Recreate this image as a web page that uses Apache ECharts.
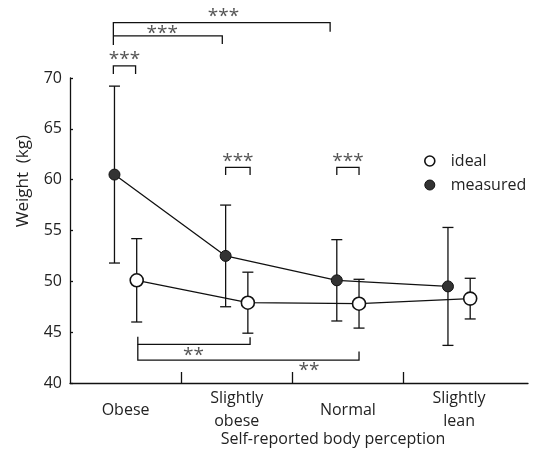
<!DOCTYPE html>
<html>
<head>
<meta charset="utf-8">
<script src="https://cdn.jsdelivr.net/npm/echarts@6/dist/echarts.min.js"></script>
<style>
  html, body { margin: 0; padding: 0; background: #fff; }
  #chart { width: 539px; height: 458px; }
</style>
</head>
<body>
<div id="chart"></div>
<script>
// Body-weight by self-reported body perception (mean ± SD)
const categories = ['Obese', 'Slightly\nobese', 'Normal', 'Slightly\nlean'];
const measuredMean = [60.5, 52.5, 50.1, 49.5];
const measuredSD   = [8.7, 5.0, 4.0, 5.8];
const idealMean    = [50.1, 47.9, 47.8, 48.3];
const idealSD      = [4.1, 3.0, 2.4, 2.0];
const yTicks = [40, 45, 50, 55, 60, 65, 70];

// Significance brackets, in axis units (x: category index, y: kg)
// [xLeft, xRight, yBar, yLeftEnd, yRightEnd, label, xLabel, yLabel]
const brackets = [
  [-0.11, 1.84, 75.45, 73.25, 74.55, '***', 0.88, 76.0],
  [-0.11, 0.87, 74.15, 74.15, 73.35, '***', 0.33, 74.4],
  [-0.11, 0.09, 71.2, 70.4, 70.4, '***', -0.01, 71.8],
  [0.90, 1.12, 61.2, 60.45, 60.45, '***', 1.01, 61.8],
  [1.90, 2.10, 61.2, 60.45, 60.45, '***', 2.00, 61.8],
  [0.11, 1.12, 43.8, 44.55, 44.5, '**', 0.61, 42.7],
  [0.11, 2.10, 42.25, 43.8, 43.1, '**', 1.65, 41.2]
];

const OFFSET = 0.1;   // horizontal separation of the two groups
const FONT = '"Open Sans", "DejaVu Sans", sans-serif';
const FS = 16;

const measuredPts = measuredMean.map((v, i) => [i - OFFSET, v]);
const idealPts = idealMean.map((v, i) => [i + OFFSET, v]);
const errData = measuredMean.map((v, i) => [i - OFFSET, v - measuredSD[i], v + measuredSD[i]])
  .concat(idealMean.map((v, i) => [i + OFFSET, v - idealSD[i], v + idealSD[i]]));

const chart = echarts.init(document.getElementById('chart'), null, { renderer: 'canvas' });

function renderErr(params, api) {
  const x = api.value(0);
  const lo = api.coord([x, api.value(1)]);
  const hi = api.coord([x, api.value(2)]);
  const w = 5.5;
  const st = { stroke: '#111', lineWidth: 1.3, fill: null };
  return {
    type: 'group',
    children: [
      { type: 'line', shape: { x1: lo[0], y1: lo[1], x2: hi[0], y2: hi[1] }, style: st },
      { type: 'line', shape: { x1: lo[0] - w, y1: lo[1], x2: lo[0] + w, y2: lo[1] }, style: st },
      { type: 'line', shape: { x1: hi[0] - w, y1: hi[1], x2: hi[0] + w, y2: hi[1] }, style: st }
    ]
  };
}

function renderBracket(params, api) {
  const b = brackets[params.dataIndex];
  const pL0 = api.coord([b[0], b[3]]);
  const pL1 = api.coord([b[0], b[2]]);
  const pR1 = api.coord([b[1], b[2]]);
  const pR0 = api.coord([b[1], b[4]]);
  const pT = api.coord([b[6], b[7]]);
  return {
    type: 'group',
    children: [
      { type: 'polyline', shape: { points: [pL0, pL1, pR1, pR0] },
        style: { stroke: '#111', lineWidth: 1.3, fill: null } },
      { type: 'text', x: pT[0], y: pT[1],
        style: { text: b[5], fill: '#555', font: '19px ' + FONT, align: 'center', verticalAlign: 'middle' } }
    ]
  };
}

chart.setOption({
  animation: false,
  backgroundColor: '#fff',
  grid: { left: 70, right: 11, top: 78, bottom: 75, containLabel: false },
  legend: {
    orient: 'vertical',
    left: 419,
    top: 148,
    itemWidth: 10,
    itemHeight: 10,
    itemGap: 8,
    textStyle: { fontFamily: FONT, fontSize: FS, color: '#222', padding: [0, 0, 0, 11] },
    data: [
      { name: 'ideal', icon: 'circle', itemStyle: { color: '#fff', borderColor: '#111', borderWidth: 1.6 } },
      { name: 'measured', icon: 'circle', itemStyle: { color: '#333', borderColor: '#111', borderWidth: 1 } }
    ]
  },
  xAxis: {
    type: 'value',
    min: -0.5,
    max: 3.62,
    splitLine: { show: false },
    axisLine: { show: true, onZero: false, lineStyle: { color: '#111', width: 1.3 } },
    axisTick: { show: true, inside: true, length: 11, customValues: [0.5, 1.5, 2.5],
      lineStyle: { color: '#111', width: 1.3 } },
    axisLabel: {
      customValues: [0, 1, 2, 3],
      formatter: v => categories[Math.round(v)],
      fontFamily: FONT, fontSize: FS, color: '#222',
      lineHeight: 23, verticalAlign: 'middle', margin: 27
    },
    name: 'Self-reported body perception',
    nameLocation: 'middle',
    nameGap: 48,
    nameMoveOverlap: false,
    nameTextStyle: { fontFamily: FONT, fontSize: FS, color: '#222', padding: [0, 0, 0, 68] }
  },
  yAxis: {
    type: 'value',
    min: 40,
    max: 70,
    interval: 5,
    splitLine: { show: false },
    axisLine: { show: true, onZero: false, lineStyle: { color: '#111', width: 1.3 } },
    axisTick: { show: true, inside: true, length: 3, lineStyle: { color: '#111', width: 1.3 } },
    axisLabel: {
      customValues: yTicks,
      fontFamily: FONT, fontSize: FS, color: '#222', margin: 8
    }
  },
  graphic: [{
    type: 'text',
    left: 15,
    top: 135,
    rotation: Math.PI / 2,
    style: { text: 'Weight  (kg)', font: '17px ' + FONT, fill: '#222' }
  }],
  series: [
    {
      name: 'errorbars',
      type: 'custom',
      renderItem: renderErr,
      data: errData,
      encode: { x: 0, y: [1, 2] },
      z: 1,
      silent: true
    },
    {
      name: 'measured',
      type: 'line',
      data: measuredPts,
      symbol: 'circle',
      symbolSize: 11,
      lineStyle: { color: '#111', width: 1.3 },
      itemStyle: { color: '#333', borderColor: '#111', borderWidth: 1 },
      z: 3
    },
    {
      name: 'ideal',
      type: 'line',
      data: idealPts,
      symbol: 'circle',
      symbolSize: 13,
      lineStyle: { color: '#111', width: 1.3 },
      itemStyle: { color: '#fff', borderColor: '#111', borderWidth: 1.6 },
      z: 3
    },
    {
      name: 'brackets',
      type: 'custom',
      renderItem: renderBracket,
      data: brackets.map(b => [b[0], b[2]]),
      clip: false,
      z: 2,
      silent: true
    }
  ]
});
</script>
</body>
</html>
